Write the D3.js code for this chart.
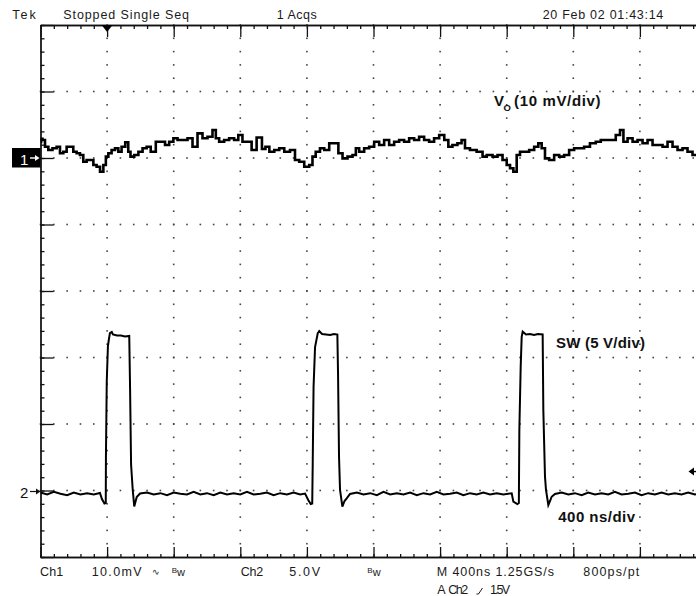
<!DOCTYPE html>
<html><head><meta charset="utf-8">
<script src="https://cdn.jsdelivr.net/npm/d3@7"></script>
<style>html,body{margin:0;padding:0;background:#fff;} svg{display:block;}</style>
</head><body>
<svg id="c" width="696" height="596"></svg>
<script>
// ---------- data ----------
// Channel 1 (Vo), mV relative to Ch1 ground marker, 10 mV/div
const voTime=[0,7,17,37,57,87,107,127,147,167,187,207,227,247,267,287,308,327,347,368,387,398,417,437,458,477,497,521,533,548,578,598,628,647,677,708,738,758,788,808,838,868,898,928,958,988,1018,1048,1058,1088,1118,1148,1178,1198,1228,1258,1278,1318,1342,1360,1389,1419,1449,1479,1518,1539,1569,1599,1629,1638,1668,1689,1719,1749,1779,1799,1829,1859,1889,1899,1929,1959,1989,2019,2049,2079,2109,2139,2169,2199,2229,2259,2289,2319,2349,2379,2410,2440,2459,2489,2519,2539,2560,2599,2640,2670,2690,2700,2730,2760,2790,2810,2830,2850,2870,2890,2920,2950,2980,3000,3020,3040,3070,3100,3130,3160,3190,3220,3250,3280,3320,3350,3380,3410,3440,3470,3491,3511,3541,3571,3601,3631,3661,3691,3721,3751,3781,3811,3841,3871,3901,3931,3961];
const voMv=[2.4,2.9,2.71,1.70,1.20,1.46,1.70,0.71,0.95,1.70,1.70,0.95,0.71,0.45,-0.56,-0.30,-0.30,-1.05,-1.31,-2.06,-1.05,0.20,0.71,1.20,1.46,0.95,1.70,2.36,0.95,0.20,0.45,0.95,1.46,1.70,0.95,2.45,2.45,1.96,2.45,2.96,2.71,2.71,2.96,1.70,3.71,2.96,3.20,4.21,2.96,2.45,2.71,2.96,2.71,3.46,2.45,2.45,1.20,3.08,1.35,1.70,0.95,1.20,1.46,0.95,1.20,-0.30,-0.56,-1.31,-1.05,0.20,0.95,1.46,1.20,2.21,2.21,0.71,-0.05,0.20,0.45,1.46,0.95,1.46,1.70,2.45,1.96,2.71,1.96,2.45,2.71,2.45,2.96,2.71,3.20,2.71,2.45,2.96,3.46,2.71,1.70,1.96,2.21,2.71,1.46,1.20,0.95,0.20,0.45,0.45,0.20,0.45,-0.30,-1.05,-1.55,-2.06,0.45,0.95,0.95,1.20,1.70,2.21,1.46,-0.05,-0.30,0.45,0.20,0.45,1.20,1.46,1.46,1.70,2.21,2.45,2.71,2.71,2.71,3.46,4.21,2.45,2.96,2.45,2.71,2.21,2.71,1.96,1.96,1.70,2.45,1.70,1.20,1.46,0.95,0.45,0.30];
// Channel 2 (SW node), volts, 5 V/div
const swTime=[0,40,80,120,160,200,240,280,320,357,369,384,392,393,398,405,411,417,428,435,459,483,507,533,538,544,554,563,578,598,640,680,720,760,800,840,880,920,960,1000,1040,1080,1120,1160,1200,1240,1280,1320,1360,1400,1440,1480,1520,1560,1589,1608,1623,1632,1635,1640,1649,1665,1674,1691,1715,1739,1763,1783,1787,1793,1799,1813,1826,1839,1859,1900,1940,1980,2020,2060,2100,2140,2180,2220,2260,2300,2340,2380,2420,2460,2500,2540,2580,2620,2660,2700,2740,2780,2830,2840,2864,2873,2876,2884,2890,2896,2916,2940,2964,2988,3016,3020,3030,3036,3050,3060,3070,3090,3130,3170,3210,3250,3290,3330,3370,3410,3450,3490,3530,3570,3610,3650,3690,3730,3770,3810,3850,3890,3930,3970];
const swVolt=[-0.15,-0.3,-0.1,-0.25,-0.35,-0.15,-0.3,-0.2,-0.3,-0.19,-0.64,-0.98,-0.94,2.52,8.23,10.86,11.39,11.84,11.92,11.73,11.65,11.65,11.58,11.62,7.67,1.95,0.04,-1.20,-0.49,-0.23,-0.15,-0.3,-0.2,-0.35,-0.15,-0.25,-0.3,-0.1,-0.3,-0.2,-0.35,-0.15,-0.3,-0.2,-0.3,-0.1,-0.3,-0.25,-0.15,-0.35,-0.2,-0.3,-0.15,-0.3,-0.23,-0.71,-1.02,-0.98,2.07,7.78,10.79,11.82,11.99,11.77,11.73,11.69,11.77,11.73,8.83,2.52,0.04,-1.22,-0.79,-0.59,-0.26,-0.15,-0.3,-0.2,-0.35,-0.1,-0.3,-0.2,-0.3,-0.15,-0.35,-0.2,-0.3,-0.1,-0.3,-0.25,-0.15,-0.35,-0.2,-0.3,-0.15,-0.3,-0.2,-0.3,-0.21,-0.84,-1.02,-0.94,4.55,9.31,11.56,11.94,11.73,11.77,11.69,11.77,11.73,6.05,1.04,0.04,-1.09,-0.79,-0.47,-0.26,-0.15,-0.3,-0.2,-0.35,-0.15,-0.3,-0.2,-0.3,-0.1,-0.3,-0.25,-0.15,-0.35,-0.2,-0.3,-0.15,-0.3,-0.2,-0.3,-0.15,-0.3,-0.2];
const timeDomain=[0,4000];     // 10 div x 400 ns
const ch1Domain=[-60,20];      // 8 div x 10 mV
const ch2Domain=[-5,35];       // 8 div x 5 V
const timePerDiv=400, ch1PerDiv=10, ch2PerDiv=5;
const trigTime=400, trigLevel=1.5;
const headerLabels=["Tek","Stopped Single Seq","1 Acqs","20 Feb 02 01:43:14"];
const footerLine1=["Ch1","10.0mV","Ch2","5.0V","M 400ns 1.25GS/s","800ps/pt"];
const footerLine2=["A","Ch2","1.5V"];
const voLabel=["V","O","(10 mV/div)"];
const swLabel="SW (5 V/div)";
const timeLabel="400 ns/div";

// ---------- layout ----------
const L=40.5, T=25, W=666, H=532;
const svg=d3.select("#c");
const x=d3.scaleLinear(timeDomain,[L,L+W]);
const y1=d3.scaleLinear(ch1Domain,[T+H,T]);
const y2=d3.scaleLinear(ch2Domain,[T+H,T]);
const FONT="'Liberation Sans Narrow','Arial Narrow','Liberation Sans',Arial,sans-serif";
const BFONT="'Liberation Sans',Arial,sans-serif";

const majT=d3.range(timeDomain[0],timeDomain[1]+1,timePerDiv);
const minT=d3.range(timeDomain[0],timeDomain[1]+1,timePerDiv/5);
const majY=d3.range(ch1Domain[0],ch1Domain[1]+0.001,ch1PerDiv);
const minY=d3.range(ch1Domain[0],ch1Domain[1]+0.001,ch1PerDiv/5);

// grid dots
const dots=svg.append("g").attr("fill","#444");
majT.slice(1,-1).forEach(t=>{
  minY.forEach(v=>{dots.append("rect").attr("x",x(t)-0.8).attr("y",y1(v)-0.8).attr("width",1.6).attr("height",1.6);});
});
majY.slice(1,-1).forEach(v=>{
  minT.forEach(t=>{dots.append("rect").attr("x",x(t)-0.8).attr("y",y1(v)-0.8).attr("width",1.6).attr("height",1.6);});
});

// border axes with ticks
function styleAxis(g){g.selectAll("path,line").attr("stroke","#111").attr("stroke-width",1.3);g.selectAll("text").remove();}
svg.append("g").attr("transform",`translate(0,${T})`).call(d3.axisBottom(x).tickValues(minT).tickSize(4).tickSizeOuter(0).tickFormat("")).call(styleAxis);
svg.append("g").attr("transform",`translate(0,${T})`).call(d3.axisBottom(x).tickValues(majT).tickSize(12).tickSizeOuter(0).tickFormat("")).call(styleAxis);
svg.append("g").attr("transform",`translate(0,${T+H})`).call(d3.axisTop(x).tickValues(minT).tickSize(3).tickSizeOuter(0).tickFormat("")).call(styleAxis);
svg.append("g").attr("transform",`translate(0,${T+H})`).call(d3.axisTop(x).tickValues(majT).tickSize(10).tickSizeOuter(0).tickFormat("")).call(styleAxis);
svg.append("g").attr("transform",`translate(${L},0)`).call(d3.axisRight(y1).tickValues(minY).tickSize(4).tickSizeOuter(0).tickFormat("")).call(styleAxis);
svg.append("g").attr("transform",`translate(${L},0)`).call(d3.axisRight(y1).tickValues(majY).tickSize(13).tickSizeOuter(0).tickFormat("")).call(styleAxis);

// clip
svg.append("clipPath").attr("id","clip").append("rect").attr("x",L).attr("y",T).attr("width",W).attr("height",H);

// traces
const vo=voTime.map((t,i)=>({t,v:voMv[i]}));
const sw=swTime.map((t,i)=>({t,v:swVolt[i]}));
svg.append("path").datum(vo).attr("clip-path","url(#clip)")
  .attr("d",d3.line().x(d=>x(d.t)).y(d=>y1(d.v)).curve(d3.curveStep))
  .attr("fill","none").attr("stroke","#000").attr("stroke-width",2.6).attr("stroke-linejoin","miter");
svg.append("path").datum(sw).attr("clip-path","url(#clip)")
  .attr("d",d3.line().x(d=>x(d.t)).y(d=>y2(d.v)))
  .attr("fill","none").attr("stroke","#000").attr("stroke-width",2).attr("stroke-linejoin","miter");

// trigger position marker (top)
const tx=x(trigTime);
svg.append("path").attr("d",`M${tx-5.5},${T} L${tx+5.5},${T} L${tx},${T+7} Z`).attr("fill","#000");
// trigger level marker (right)
const ty=y2(trigLevel)+1;
svg.append("path").attr("d",`M688.5,${ty} L694,${ty-4} L694,${ty+4} Z`).attr("fill","#000");
svg.append("line").attr("x1",692).attr("x2",696).attr("y1",ty).attr("y2",ty).attr("stroke","#000").attr("stroke-width",1.4);

// Ch1 ground marker
const g1=y1(0);
svg.append("rect").attr("x",12).attr("y",g1-10).attr("width",28.5).attr("height",19.5).attr("fill","#000");
svg.append("text").attr("x",20).attr("y",g1+6.5).attr("font-family",BFONT).attr("font-size",15).attr("fill","#fff").text("1");
svg.append("line").attr("x1",30).attr("x2",37).attr("y1",g1).attr("y2",g1).attr("stroke","#fff").attr("stroke-width",1.4);
svg.append("path").attr("d",`M39.5,${g1} L35,${g1-3} L35,${g1+3} Z`).attr("fill","#fff");
// Ch2 ground marker
const g2=y2(0);
svg.append("text").attr("x",20).attr("y",g2+7).attr("font-family",FONT).attr("font-size",15).attr("fill","#111").text("2");
svg.append("line").attr("x1",30).attr("x2",37).attr("y1",g2+1).attr("y2",g2+1).attr("stroke","#111").attr("stroke-width",1.2);
svg.append("path").attr("d",`M40.5,${g2+1} L36,${g2-2} L36,${g2+4} Z`).attr("fill","#111");

// header / footer text
function label(str,xp,yp,len,size){
  const t=svg.append("text").attr("x",xp).attr("y",yp).attr("font-family",FONT).attr("font-size",size||12.5).attr("fill","#1a1a1a").text(str);
  if(len) t.attr("textLength",len).attr("lengthAdjust","spacing");
  return t;
}
label(headerLabels[0],12.3,19.3,23.4);
label(headerLabels[1],63.3,19.3,125.7);
label(headerLabels[2],276.7,19.3,40);
label(headerLabels[3],542.7,19.3,120.6);

const fy1=575.5, fy2=594;
label(footerLine1[0],40,fy1,23.3,12.5);
label(footerLine1[1],91.7,fy1,50,12.5);
label("∿",151.5,fy1-1,null,9);
function bw(xp){const t=svg.append("text").attr("x",xp).attr("y",fy1).attr("font-family",FONT).attr("fill","#1a1a1a");
  t.append("tspan").attr("font-size",8).attr("dy",-2.5).text("B");
  t.append("tspan").attr("font-size",11).attr("dy",2.5).text("w");}
bw(171.7); bw(367.3);
label(footerLine1[2],240.7,fy1,22.6,12.5);
label(footerLine1[3],289.3,fy1,30.7,12.5);
label(footerLine1[4],436.7,fy1,117.3,12.5);
label(footerLine1[5],583.3,fy1,56,12.5);
label(footerLine2[0],437.3,fy2,null,12.5);
label(footerLine2[1],448.3,fy2,20,12.5);
svg.append("path").attr("d",`M476.5,${fy2} L478.5,${fy2} L482.5,${fy2-6}`).attr("fill","none").attr("stroke","#1a1a1a").attr("stroke-width",1);
label(footerLine2[2],490,fy2,20,12.5);

// annotations
function blabel(str,xp,yp,len,size){
  const t=svg.append("text").attr("x",xp).attr("y",yp).attr("font-family",BFONT).attr("font-weight","bold").attr("font-size",size).attr("fill","#111").text(str);
  if(len) t.attr("textLength",len).attr("lengthAdjust","spacing");
  return t;
}
blabel(voLabel[0],494,106,null,15);
blabel(voLabel[1],503.5,110.5,null,9.5);
blabel(voLabel[2],514,106,86.5,15);
blabel(swLabel,556,348,89,15);
blabel(timeLabel,558.3,522,76.7,15);
</script>
</body></html>
